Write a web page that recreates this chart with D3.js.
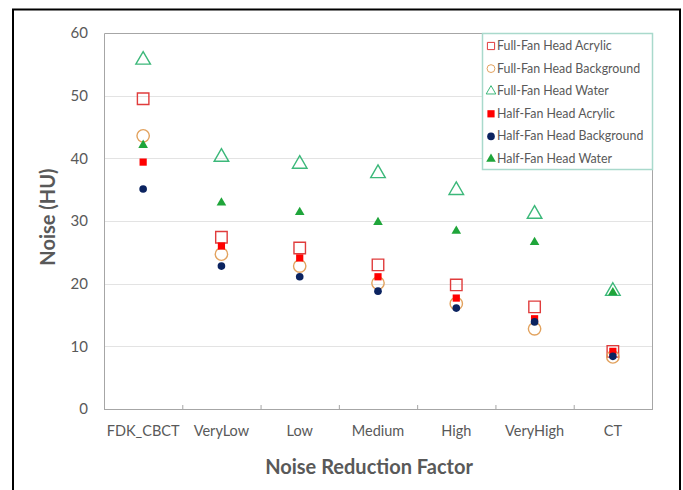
<!DOCTYPE html>
<html><head><meta charset="utf-8">
<script src="https://cdn.jsdelivr.net/npm/d3@7"></script>
<style>body{margin:0;background:#fff}svg{display:block}text{font-family:Lato,"Open Sans",sans-serif}</style>
</head><body>
<script>
const categories = ["FDK_CBCT","VeryLow","Low","Medium","High","VeryHigh","CT"];
const seriesNames = ["Full-Fan Head Acrylic","Full-Fan Head Background","Full-Fan Head Water","Half-Fan Head Acrylic","Half-Fan Head Background","Half-Fan Head Water"];
const ffAcrylic    = [49.5, 27.4, 25.7, 23.0, 19.8, 16.3, 9.2];
const ffBackground = [43.6, 24.7, 22.8, 20.1, 16.8, 12.8, 8.3];
const ffWater      = [55.7, 40.2, 39.1, 37.6, 34.9, 31.1, 18.8];
const hfAcrylic    = [39.4, 26.0, 24.1, 21.1, 17.7, 14.4, 9.2];
const hfBackground = [35.1, 22.8, 21.1, 18.8, 16.1, 13.9, 8.4];
const hfWater      = [42.1, 32.9, 31.4, 29.8, 28.4, 26.6, 18.6];
const yTicks = [0,10,20,30,40,50,60];

(function(){
const styles = [
  {shape:d3.symbolSquare, fill:"none", stroke:"#e03c3c", size:132, lsize:52},
  {shape:d3.symbolCircle, fill:"none", stroke:"#e2a25e", size:120, lsize:48},
  {shape:d3.symbolTriangle, fill:"none", stroke:"#3cb87a", size:92, lsize:40},
  {shape:d3.symbolSquare, fill:"#ff0000", stroke:"none", size:52, lsize:52},
  {shape:d3.symbolCircle, fill:"#0b2360", stroke:"none", size:46, lsize:46},
  {shape:d3.symbolTriangle, fill:"#1fa53a", stroke:"none", size:40, lsize:40}
];
const series = [ffAcrylic, ffBackground, ffWater, hfAcrylic, hfBackground, hfWater];

const W=683, H=490;
const svg = d3.select("body").append("svg").attr("width",W).attr("height",H);
svg.append("path").attr("d","M13,490V9.5H680V490").attr("fill","none").attr("stroke","#000").attr("stroke-width",2);

const pl=104, pr=652, pt=33, pb=409;
const x = d3.scaleBand().domain(categories).range([pl,pr]).padding(0);
const y = d3.scaleLinear().domain([0,60]).range([pb,pt]);

svg.append("g").selectAll("line").data(yTicks.filter(d=>d>0&&d<60)).join("line")
  .attr("x1",pl).attr("x2",pr).attr("y1",d=>Math.round(y(d))+0.5).attr("y2",d=>Math.round(y(d))+0.5)
  .attr("stroke","#e3e3e3").attr("stroke-width",1);
svg.append("path").attr("d",`M${pl+0.5},${pb}V${pt+0.5}H${pr+0.5}V${pb}`)
  .attr("fill","none").attr("stroke","#a6a6a6").attr("stroke-width",1);

const ya = svg.append("g").attr("transform",`translate(${pl},0)`)
  .call(d3.axisLeft(y).tickValues(yTicks).tickSize(0).tickPadding(16));
ya.select(".domain").remove();
ya.selectAll("text").attr("fill","#595959").style("font-size","15px").style("font-family","Lato,sans-serif");

const xa = svg.append("g").attr("transform",`translate(0,${pb})`)
  .call(d3.axisBottom(x).tickSize(0).tickPadding(17));
xa.select(".domain").attr("stroke","#a6a6a6").attr("d",`M${pl},0.5H${pr+1}`);
xa.selectAll("text").attr("fill","#595959").style("font-size","14.5px").style("font-family","Lato,sans-serif");
svg.append("g").selectAll("line").data(categories.slice(1)).join("line")
  .attr("x1",d=>x(d)+0.5).attr("x2",d=>x(d)+0.5).attr("y1",pb).attr("y2",pb-4)
  .attr("stroke","#a6a6a6");

svg.append("text").attr("x",369).attr("y",474).attr("text-anchor","middle")
  .attr("fill","#595959").style("font-size","20px").style("font-weight","bold").text("Noise Reduction Factor");
svg.append("text").attr("transform",`translate(55,217) rotate(-90)`).attr("text-anchor","middle")
  .attr("fill","#595959").style("font-size","20px").style("font-weight","bold").text("Noise (HU)");

series.forEach((vals,i)=>{
  const s=styles[i];
  svg.append("g").selectAll("path").data(vals).join("path")
    .attr("transform",(d,j)=>`translate(${x(categories[j])+x.bandwidth()/2},${y(d)})`)
    .attr("d",d3.symbol().type(s.shape).size(s.size))
    .attr("fill",s.fill).attr("stroke",s.stroke).attr("stroke-width",1.4);
});

const lg = svg.append("g");
lg.append("rect").attr("x",482.5).attr("y",33.5).attr("width",170).attr("height",136)
  .attr("fill","#fff").attr("stroke","#a9d9cc").attr("stroke-width",1.5);
seriesNames.forEach((n,i)=>{
  const s=styles[i], cy=46+i*22.6;
  lg.append("path").attr("transform",`translate(491,${cy})`)
    .attr("d",d3.symbol().type(s.shape).size(s.lsize))
    .attr("fill",s.fill).attr("stroke",s.stroke).attr("stroke-width",1);
  lg.append("text").attr("x",497).attr("y",cy+4).attr("fill","#595959")
    .style("font-size","12.4px").text(n);
});
})();
</script>
</body></html>
